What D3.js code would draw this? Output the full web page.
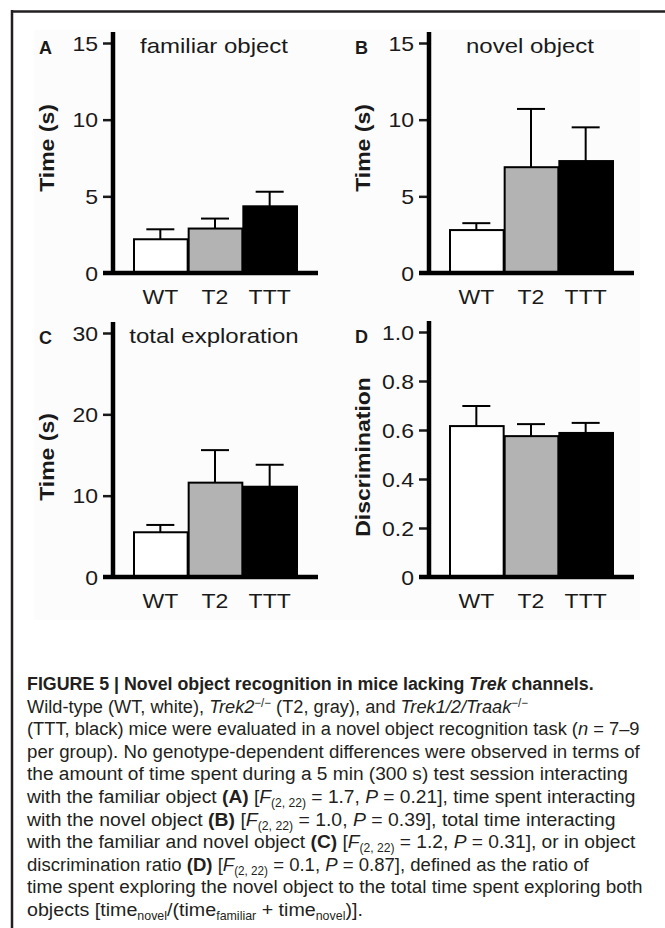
<!DOCTYPE html>
<html>
<head>
<meta charset="utf-8">
<script src="https://cdn.jsdelivr.net/npm/d3@7"></script>
<style>
  body { margin: 0; background: #fff; }
  text { font-family: "Liberation Sans", Arial, Helvetica, sans-serif; }
</style>
</head>
<body>
<svg></svg>
<script>

// data (mean, and SEM drawn upward)
const groups = ["WT", "T2", "TTT"];
const familiarMean = [2.2, 2.9, 4.35];
const familiarErr = [0.65, 0.65, 0.95];
const novelMean = [2.8, 6.9, 7.3];
const novelErr = [0.45, 3.8, 2.2];
const totalMean = [5.5, 11.6, 11.1];
const totalErr = [0.9, 4.0, 2.7];
const discMean = [0.616, 0.575, 0.588];
const discErr = [0.082, 0.049, 0.041];

const timeTicks = [0, 5, 10, 15];
const totalTicks = [0, 10, 20, 30];
const discTicks = [0, 0.2, 0.4, 0.6, 0.8, 1.0];

const svg = d3.select("svg");
const svg_width = 665;
const svg_height = 928;
svg.attr("width", svg_width).attr("height", svg_height);

const ink = "#1a1a1a";
const fill = d3.scaleOrdinal().domain(groups).range(["#ffffff", "#b3b3b3", "#000000"]);
const stretch = 1.15;

// page frame + faint chart backing
svg.append("rect")
    .attr("x", 34).attr("y", 30)
    .attr("width", 606).attr("height", 590)
    .attr("fill", "#fcfcfc");
svg.append("line")
    .attr("x1", 11).attr("x2", svg_width)
    .attr("y1", 11.5).attr("y2", 11.5)
    .attr("stroke", "#231f20").attr("stroke-width", 2.5);
svg.append("line")
    .attr("x1", 12).attr("x2", 12)
    .attr("y1", 10).attr("y2", svg_height)
    .attr("stroke", "#231f20").attr("stroke-width", 2.5);

const intFmt = d => String(d);
const decFmt = d => d === 0 ? "0" : d3.format(".1f")(d);

const panels = [
    {letter: "A", title: "familiar object", ylab: "Time (s)", mean: familiarMean, err: familiarErr,
        ticks: timeTicks, fmt: intFmt, x0: 113, yTop: 43, yBase: 273, labY: 148},
    {letter: "B", title: "novel object", ylab: "Time (s)", mean: novelMean, err: novelErr,
        ticks: timeTicks, fmt: intFmt, x0: 429, yTop: 43, yBase: 273, labY: 148},
    {letter: "C", title: "total exploration", ylab: "Time (s)", mean: totalMean, err: totalErr,
        ticks: totalTicks, fmt: intFmt, x0: 113, yTop: 333, yBase: 577, labY: 457},
    {letter: "D", title: "", ylab: "Discrimination", mean: discMean, err: discErr,
        ticks: discTicks, fmt: decFmt, x0: 429, yTop: 332, yBase: 577, labY: 457}
];

function drawPanel(p){
    const g = svg.append("g");
    const y = d3.scaleLinear()
        .domain([0, d3.max(p.ticks)])
        .range([p.yBase, p.yTop]);
    const x = d3.scaleBand()
        .domain(groups)
        .range([p.x0 + 20, p.x0 + 184])
        .padding(0);

    // ticks + labels
    const yAxis = g.append("g")
        .attr("transform", `translate(${p.x0},0)`)
        .call(d3.axisLeft(y).tickValues(p.ticks).tickSize(10).tickFormat(p.fmt));
    yAxis.select(".domain").remove();
    yAxis.selectAll(".tick line").attr("stroke", ink).attr("stroke-width", 2.5);
    yAxis.selectAll(".tick text")
        .attr("x", 0).attr("dy", "0.36em")
        .attr("transform", `translate(-15,0) scale(${stretch},1)`)
        .attr("font-size", 20).attr("fill", ink)
        .attr("font-family", "Liberation Sans, Arial, sans-serif");

    // bars
    const rows = groups.map((k, i) => ({k: k, m: p.mean[i], e: p.err[i]}));
    g.selectAll("rect.bar")
        .data(rows)
        .join("rect")
        .attr("class", "bar")
        .attr("x", d => x(d.k) + 1)
        .attr("width", x.bandwidth() - 1)
        .attr("y", d => y(d.m))
        .attr("height", d => y(0) - y(d.m))
        .attr("fill", d => fill(d.k))
        .attr("stroke", "#000")
        .attr("stroke-width", 2);

    // error bars (upper only)
    g.selectAll("line.err")
        .data(rows)
        .join("line")
        .attr("class", "err")
        .attr("x1", d => x(d.k) + x.bandwidth() / 2)
        .attr("x2", d => x(d.k) + x.bandwidth() / 2)
        .attr("y1", d => y(d.m))
        .attr("y2", d => y(d.m + d.e))
        .attr("stroke", "#000").attr("stroke-width", 2);
    g.selectAll("line.cap")
        .data(rows)
        .join("line")
        .attr("class", "cap")
        .attr("x1", d => x(d.k) + x.bandwidth() / 2 - 14)
        .attr("x2", d => x(d.k) + x.bandwidth() / 2 + 14)
        .attr("y1", d => y(d.m + d.e))
        .attr("y2", d => y(d.m + d.e))
        .attr("stroke", "#000").attr("stroke-width", 2);

    // thick axes
    g.append("line")
        .attr("x1", p.x0).attr("x2", p.x0)
        .attr("y1", p.yTop - 11).attr("y2", p.yBase + 2)
        .attr("stroke", "#000").attr("stroke-width", 4.5);
    g.append("line")
        .attr("x1", p.x0 - 10).attr("x2", p.x0 + 205)
        .attr("y1", p.yBase).attr("y2", p.yBase)
        .attr("stroke", "#000").attr("stroke-width", 4.5);

    // category labels
    const xAxis = g.append("g")
        .attr("transform", `translate(0,${p.yBase + 31})`)
        .call(d3.axisBottom(x).tickSize(0));
    xAxis.select(".domain").remove();
    xAxis.selectAll(".tick text")
        .attr("y", 0).attr("dy", 0)
        .attr("transform", `scale(${stretch},1)`)
        .attr("font-size", 20).attr("fill", ink)
        .attr("font-family", "Liberation Sans, Arial, sans-serif");

    // panel letter
    g.append("text")
        .attr("x", p.x0 - 74).attr("y", p.yTop + 11)
        .attr("font-size", 18).attr("font-weight", "bold").attr("fill", ink)
        .text(p.letter);

    // title
    if (p.title) {
        g.append("text")
            .attr("transform", `translate(${p.x0 + 101},${p.yTop + 10}) scale(1.2,1)`)
            .attr("text-anchor", "middle")
            .attr("font-size", 20).attr("fill", ink)
            .text(p.title);
    }

    // y label
    g.append("text")
        .attr("transform", `translate(${p.x0 - 59},${p.labY}) rotate(-90) scale(${stretch},1)`)
        .attr("text-anchor", "middle")
        .attr("font-size", 20).attr("font-weight", "bold").attr("fill", ink)
        .text(p.ylab);
}

panels.forEach(drawPanel);

// caption
const captionLines = [
    [{t: "FIGURE 5 | Novel object recognition in mice lacking ", b: 1}, {t: "Trek", b: 1, i: 1}, {t: " channels.", b: 1}],
    [{t: "Wild-type (WT, white), "}, {t: "Trek2", i: 1}, {t: "−/−", sup: 1}, {t: " (T2, gray), and "}, {t: "Trek1/2/Traak", i: 1}, {t: "−/−", sup: 1}],
    [{t: "(TTT, black) mice were evaluated in a novel object recognition task ("}, {t: "n", i: 1}, {t: " = 7–9"}],
    [{t: "per group). No genotype-dependent differences were observed in terms of"}],
    [{t: "the amount of time spent during a 5 min (300 s) test session interacting"}],
    [{t: "with the familiar object "}, {t: "(A)", b: 1}, {t: " ["}, {t: "F", i: 1}, {t: "(2, 22)", sub: 1}, {t: " = 1.7, "}, {t: "P", i: 1}, {t: " = 0.21], time spent interacting"}],
    [{t: "with the novel object "}, {t: "(B)", b: 1}, {t: " ["}, {t: "F", i: 1}, {t: "(2, 22)", sub: 1}, {t: " = 1.0, "}, {t: "P", i: 1}, {t: " = 0.39], total time interacting"}],
    [{t: "with the familiar and novel object "}, {t: "(C)", b: 1}, {t: " ["}, {t: "F", i: 1}, {t: "(2, 22)", sub: 1}, {t: " = 1.2, "}, {t: "P", i: 1}, {t: " = 0.31], or in object"}],
    [{t: "discrimination ratio "}, {t: "(D)", b: 1}, {t: " ["}, {t: "F", i: 1}, {t: "(2, 22)", sub: 1}, {t: " = 0.1, "}, {t: "P", i: 1}, {t: " = 0.87], defined as the ratio of"}],
    [{t: "time spent exploring the novel object to the total time spent exploring both"}],
    [{t: "objects [time"}, {t: "novel", sub: 1}, {t: "/(time"}, {t: "familiar", sub: 1}, {t: " + time"}, {t: "novel", sub: 1}, {t: ")]."}]
];
const captionEnds = [594, 528, 640, 640, 628, 636, 616, 636, 589, 643, 363];

captionLines.forEach((segs, li) => {
    const txt = svg.append("text")
        .attr("font-size", 19)
        .attr("fill", "#231f20")
        .attr("font-family", "Liberation Sans Narrow, Arial Narrow, Liberation Sans, sans-serif");
    let shift = 0;
    segs.forEach(s => {
        const want = s.sup ? -6 : (s.sub ? 4 : 0);
        const ts = txt.append("tspan")
            .attr("dy", want - shift)
            .text(s.t);
        shift = want;
        if (s.b) ts.attr("font-weight", "bold");
        if (s.i) ts.attr("font-style", "italic");
        if (s.sup || s.sub) ts.attr("font-size", 12);
    });
    // squeeze each line to the width it has in the figure
    const natural = txt.node().getComputedTextLength();
    const sx = (captionEnds[li] - 27) / natural;
    txt.attr("transform", `translate(27,${690 + li * 22.6}) scale(${sx},1)`);
});

</script>
</body>
</html>
